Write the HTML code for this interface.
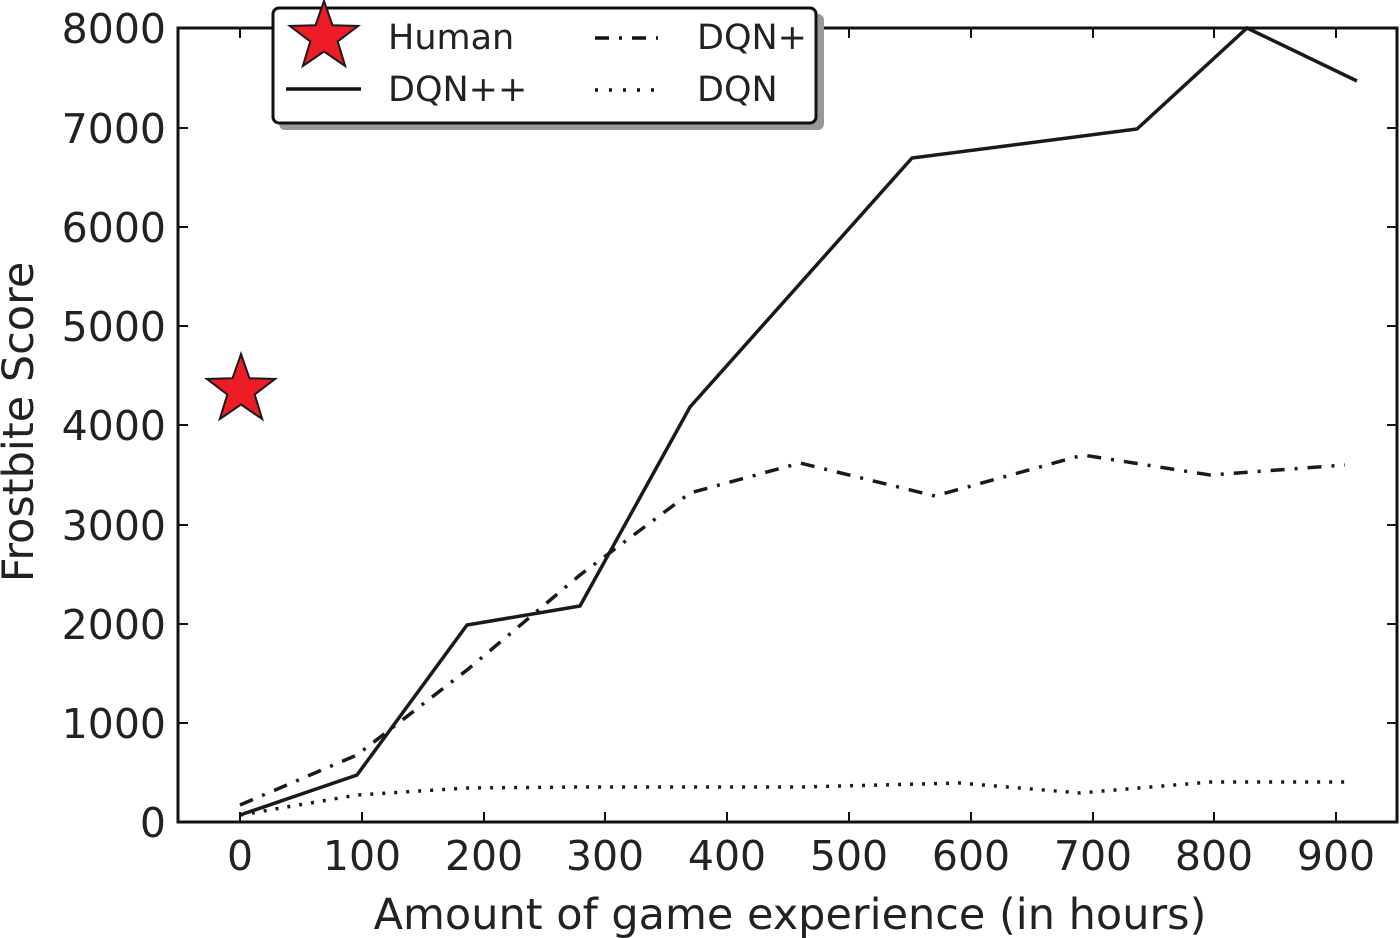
<!DOCTYPE html>
<html><head><style>body{margin:0;background:#fff}svg{display:block}</style></head><body>
<svg width="1400" height="938" xmlns="http://www.w3.org/2000/svg" font-family="DejaVu Sans, Liberation Sans, sans-serif" fill="#222">
<g stroke="#1a1a1a" stroke-width="3.5" fill="none">
<polyline points="240,815 357,775 467,625 580,606 690,407 912,158 1137,129 1247,28 1357,81"/>
<polyline stroke-dasharray="14,10,3,10" points="240,805 357,755 467,670 580,575 690,493 800,463 935,496 1083,455 1210,475 1345,465"/>
<polyline stroke-dasharray="3,9" points="240,815 357,795 467,788 580,787 690,787 800,787 960,783 1080,793 1210,782 1350,782"/>
</g>
<polygon transform="translate(241,390)" fill="#ee1c25" stroke="#1a1a1a" stroke-width="2" points="0,-36 8.5,-11.7 34.2,-11.1 13.7,4.5 21.2,29.1 0,14.5 -21.2,29.1 -13.7,4.5 -34.2,-11.1 -8.5,-11.7"/>
<rect x="178" y="28" width="1219" height="794" fill="none" stroke="#111" stroke-width="3"/>
<g stroke="#111" stroke-width="2">
<path d="M240,822v-10M362,822v-10M484,822v-10M605,822v-10M727,822v-10M849,822v-10M971,822v-10M1093,822v-10M1214,822v-10M1336,822v-10"/>
<path d="M240,28v10M362,28v10M484,28v10M605,28v10M727,28v10M849,28v10M971,28v10M1093,28v10M1214,28v10M1336,28v10"/>
<path d="M178,723h10M178,624h10M178,525h10M178,425h10M178,326h10M178,227h10M178,128h10"/>
<path d="M1397,723h-10M1397,624h-10M1397,525h-10M1397,425h-10M1397,326h-10M1397,227h-10M1397,128h-10"/>
</g>
<g font-size="41" text-anchor="end">
<text x="166" y="837">0</text><text x="166" y="738">1000</text><text x="166" y="639">2000</text><text x="166" y="540">3000</text><text x="166" y="440">4000</text><text x="166" y="341">5000</text><text x="166" y="242">6000</text><text x="166" y="143">7000</text><text x="166" y="43">8000</text>
</g>
<g font-size="41" text-anchor="middle">
<text x="240" y="870">0</text><text x="362" y="870">100</text><text x="484" y="870">200</text><text x="605" y="870">300</text><text x="727" y="870">400</text><text x="849" y="870">500</text><text x="971" y="870">600</text><text x="1093" y="870">700</text><text x="1214" y="870">800</text><text x="1336" y="870">900</text>
<text x="790" y="929" font-size="43">Amount of game experience (in hours)</text>
<text transform="translate(33,422) rotate(-90)" font-size="43">Frostbite Score</text>
</g>
<rect x="279" y="14" width="545" height="116" rx="6" fill="#999"/>
<rect x="273" y="8" width="543" height="115" rx="6" fill="#fff" stroke="#111" stroke-width="3"/>
<polygon transform="translate(324,37)" fill="#ee1c25" stroke="#1a1a1a" stroke-width="2" points="0,-36 8.5,-11.7 34.2,-11.1 13.7,4.5 21.2,29.1 0,14.5 -21.2,29.1 -13.7,4.5 -34.2,-11.1 -8.5,-11.7"/>
<line x1="286" y1="89" x2="361" y2="89" stroke="#111" stroke-width="3.5"/>
<line x1="595" y1="38" x2="658" y2="38" stroke="#111" stroke-width="3.5" stroke-dasharray="14,10,3,10"/>
<line x1="595" y1="90" x2="658" y2="90" stroke="#111" stroke-width="3.5" stroke-dasharray="3,11"/>
<g font-size="35">
<text x="388" y="49">Human</text><text x="388" y="101">DQN++</text>
<text x="697" y="49">DQN+</text><text x="697" y="101">DQN</text>
</g>
</svg>
</body></html>
